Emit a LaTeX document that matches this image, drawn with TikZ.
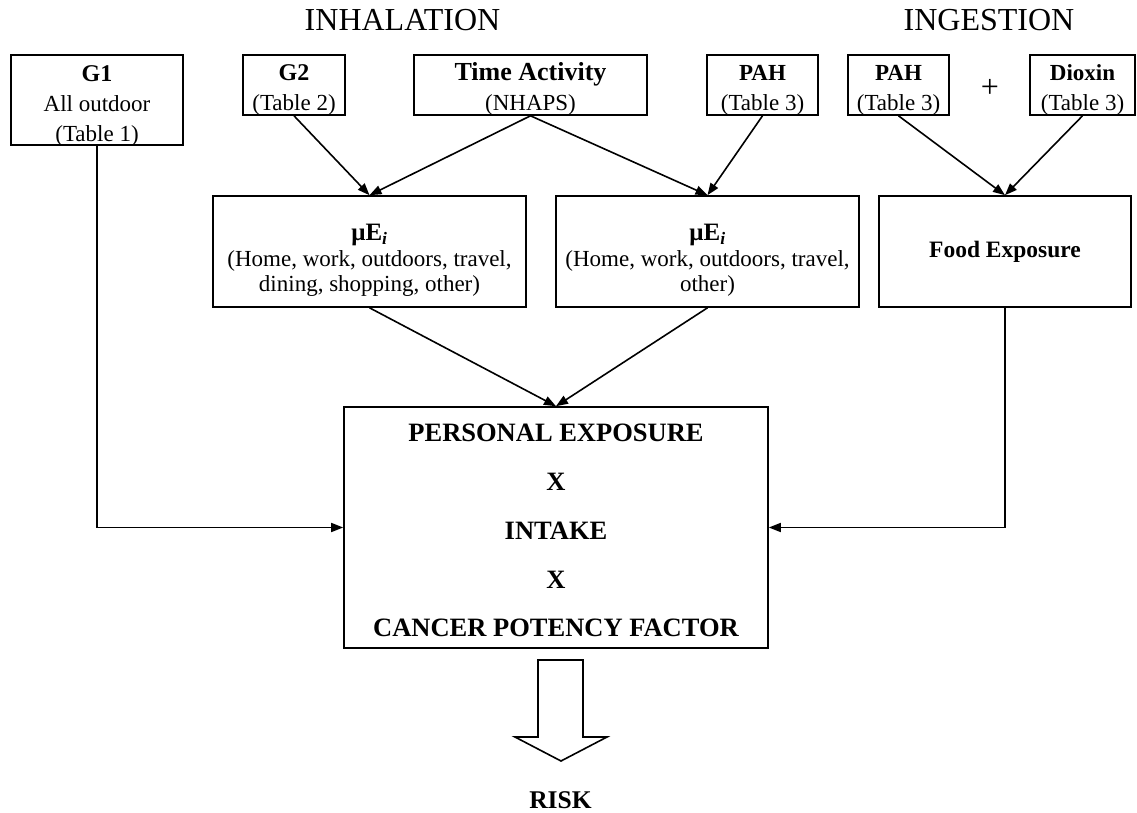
\documentclass[tikz,border=0pt]{standalone}
\usepackage{fontspec}
\setmainfont{Liberation Serif}
\usetikzlibrary{arrows.meta}
\begin{document}
\begin{tikzpicture}[x=1pt,y=-1pt,
  box/.style={draw, line width=1.6pt, inner sep=0pt, align=center, font=\fontsize{23}{30}\selectfont},
  mubox/.style={box, font=\fontsize{23}{25.5}\selectfont},
  arr/.style={line width=1.6pt, -{Triangle[length=12pt,width=9pt]}},
  heading/.style={font=\fontsize{32}{32}\selectfont}]
\useasboundingbox (0,0) rectangle (1137,813);

% headings
\node[heading] (inh) at (402.5,20) {INHALATION};
\node[heading] (ing) at (989,20) {INGESTION};

% top row
\node[box, minimum width=172pt, minimum height=90pt] (g1) at (97,100)
  {\rule{0pt}{24pt}{\fontsize{24}{30}\selectfont\bfseries G1}\\All outdoor\\\smash{(Table 1)}};
\node[box, minimum width=102pt, minimum height=60pt] (g2) at (294,85)
  {\rule{0pt}{22pt}{\fontsize{24}{30}\selectfont\bfseries G2}\\\smash{(Table 2)}};
\node[box, minimum width=233pt, minimum height=60pt] (time) at (530.5,85)
  {\rule{0pt}{22pt}{\fontsize{26}{30}\selectfont\bfseries Time Activity}\\\smash{(NHAPS)}};
\node[box, minimum width=111pt, minimum height=60pt] (pah1) at (762.5,85)
  {\rule{0pt}{22pt}{\fontsize{23}{30}\selectfont\bfseries PAH}\\\smash{(Table 3)}};
\node[box, minimum width=101pt, minimum height=60pt] (pah2) at (898.5,85)
  {\rule{0pt}{22pt}{\fontsize{23}{30}\selectfont\bfseries PAH}\\\smash{(Table 3)}};
\node[box, minimum width=105pt, minimum height=60pt] (diox) at (1082.5,85)
  {\rule{0pt}{22pt}{\fontsize{23}{30}\selectfont\bfseries Dioxin}\\\smash{(Table 3)}};
\node[font=\fontsize{32}{32}\selectfont] (plus) at (990,88) {+};

% middle row
\node[mubox, minimum width=313pt, minimum height=111pt] (mu1) at (369.5,251.5)
  {\rule{0pt}{34.5pt}{\fontsize{25}{25}\selectfont\bfseries μE\textsubscript{\itshape i}}\\(Home, work, outdoors, travel,\\dining, shopping, other)};
\node[mubox, minimum width=303pt, minimum height=111pt] (mu2) at (707.5,251.5)
  {\rule{0pt}{34.5pt}{\fontsize{25}{25}\selectfont\bfseries μE\textsubscript{\itshape i}}\\(Home, work, outdoors, travel,\\other)};
\node[box, minimum width=252pt, minimum height=111pt, font=\fontsize{23.5}{29}\selectfont\bfseries] (food) at (1005,251.5)
  {Food Exposure};

% central box
\node[box, minimum width=424pt, minimum height=241pt, font=\fontsize{26.5}{48.75}\selectfont\bfseries] (pe) at (556,527.5)
  {\rule{0pt}{24pt}PERSONAL EXPOSURE\\X\\INTAKE\\X\\CANCER POTENCY FACTOR};

% risk
\node[font=\fontsize{25.5}{25.5}\selectfont\bfseries] (risk) at (560.5,800) {RISK};

% connectors
\draw[arr] (g2.south) -- (mu1.north);
\draw[arr] (time.south) -- (mu1.north);
\draw[arr] (time.south) -- (mu2.north);
\draw[arr] (pah1.south) -- (mu2.north);
\draw[arr] (pah2.south) -- (food.north);
\draw[arr] (diox.south) -- (food.north);
\draw[arr] (mu1.south) -- (pe.north);
\draw[arr] (mu2.south) -- (pe.north);
\draw[arr] (g1.south) |- (pe.west);
\draw[arr] (food.south) |- (pe.east);

% block arrow
\draw[line width=1.6pt, line join=miter] (538,660) -- (583,660) -- (583,737) -- (607,737) -- (561,761) -- (515,737) -- (538,737) -- cycle;
\end{tikzpicture}
\end{document}
